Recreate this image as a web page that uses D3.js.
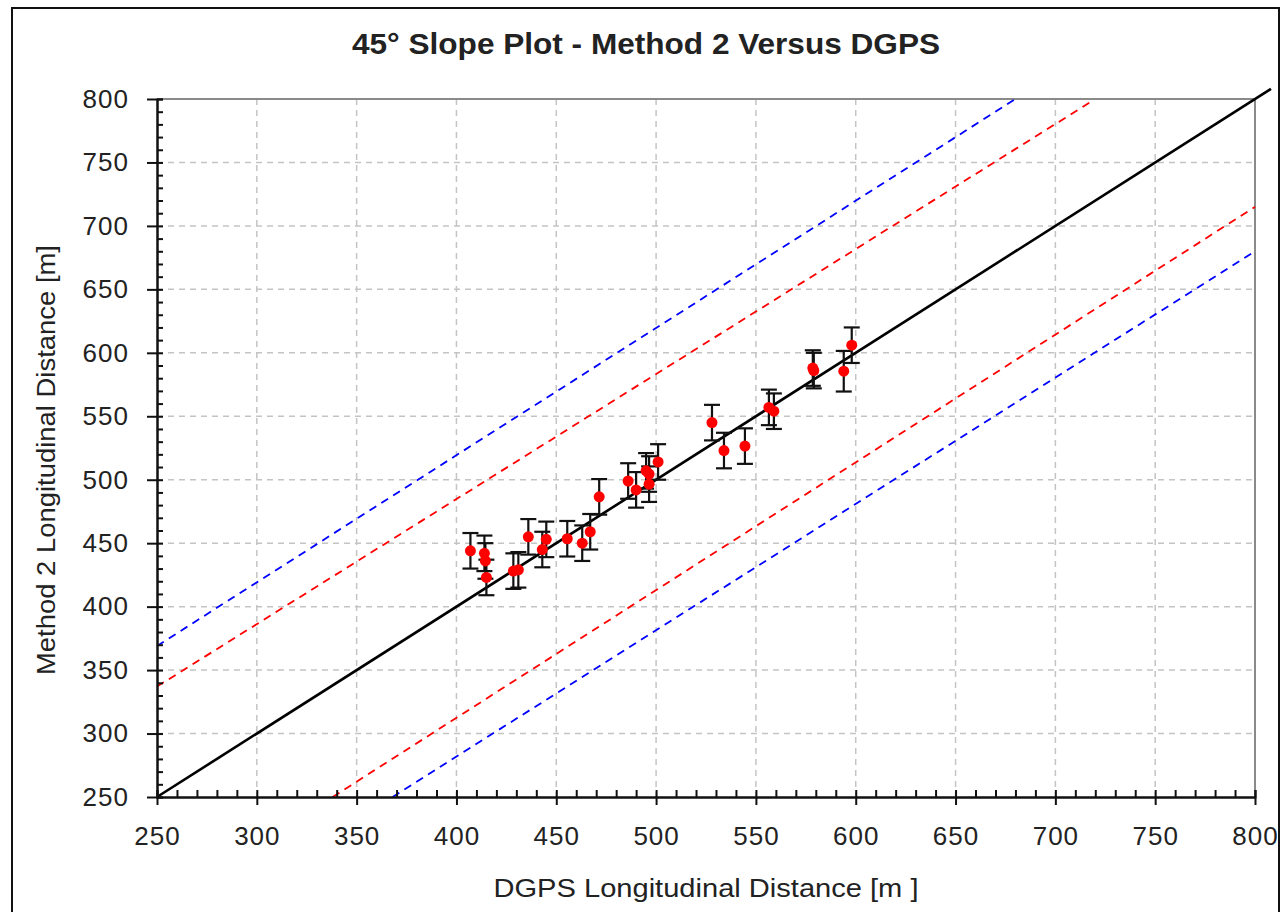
<!DOCTYPE html>
<html>
<head>
<meta charset="utf-8">
<script src="https://cdn.jsdelivr.net/npm/d3@7"></script>
<style>
  body { margin: 0; background: #fff; }
  text { font-family: "Liberation Sans", Arial, sans-serif; fill: #222; }
</style>
</head>
<body>
<div id="chart"></div>
<script>
// Data: DGPS distance vs Method 2 distance, with error bars
var dgps   = [407, 414, 414.5, 415, 428.5, 431, 436, 443, 445, 455.5, 463, 467, 471.5, 486,
              490, 495, 496.5, 496.5, 501, 528, 534, 544.5, 556.5, 559, 578.5, 579, 594, 598];
var method2 = [444, 442, 436, 423, 428, 429, 455, 445, 453, 453.5, 450, 459, 486.5, 499,
              492, 507, 504.5, 496.5, 514, 545, 523, 526.5, 557, 554, 588, 586, 585.5, 606];
var errs   = [14, 14, 14, 14, 14, 14, 14, 14, 14, 14, 14, 14, 14, 14,
              14, 14, 14, 14, 14, 14, 14, 14, 14, 14, 14, 14, 16, 14];

// 45 degree line and the bound lines (end points)
var refX = [250, 808], refY = [250, 808];
var blueUpX = [250, 680], blueUpY = [369, 800];
var redUpX  = [250, 718], redUpY  = [337, 798];
var redLoX  = [338, 800], redLoY  = [250, 715];
var blueLoX = [368, 800], blueLoY = [250, 680];

var majorTicks = [250, 300, 350, 400, 450, 500, 550, 600, 650, 700, 750, 800];
var minorTicks = d3.range(250, 801, 10);

const width = 1288, height = 912;
const plotLeft = 157, plotRight = 1255, plotTop = 99, plotBottom = 797;

var svg = d3.select('#chart').append('svg')
    .attr('width', width)
    .attr('height', height);

// outer frame
svg.append('rect')
   .attr('x', 12).attr('y', 8)
   .attr('width', 1267).attr('height', 920)
   .attr('fill', '#fff').attr('stroke', '#111').attr('stroke-width', 2);

var x = d3.scaleLinear().domain([250, 800]).range([plotLeft, plotRight]);
var y = d3.scaleLinear().domain([250, 800]).range([plotBottom, plotTop]);

// grid
svg.append('g').selectAll('line')
   .data(majorTicks.slice(1, -1))
   .enter().append('line')
   .attr('x1', d => x(d)).attr('x2', d => x(d))
   .attr('y1', plotTop).attr('y2', plotBottom)
   .attr('stroke', '#c4c4c4').attr('stroke-width', 1.5).attr('stroke-dasharray', '6,5');
svg.append('g').selectAll('line')
   .data(majorTicks.slice(1, -1))
   .enter().append('line')
   .attr('y1', d => y(d)).attr('y2', d => y(d))
   .attr('x1', plotLeft).attr('x2', plotRight)
   .attr('stroke', '#c4c4c4').attr('stroke-width', 1.5).attr('stroke-dasharray', '6,5');

// top and right border of plot
svg.append('path')
   .attr('d', `M${plotLeft},${plotTop}H${plotRight}V${plotBottom}`)
   .attr('fill', 'none').attr('stroke', '#8a8a8a').attr('stroke-width', 2);

// bound lines
function boundLine(xs, ys, color) {
    var pts = xs.map((d, i) => [x(d), y(ys[i])]);
    svg.append('path')
       .attr('d', d3.line()(pts))
       .attr('fill', 'none')
       .attr('stroke', color)
       .attr('stroke-width', 1.8)
       .attr('stroke-dasharray', '8,6');
}
boundLine(blueUpX, blueUpY, '#0000ff');
boundLine(redUpX, redUpY, '#ff0000');
boundLine(redLoX, redLoY, '#ff0000');
boundLine(blueLoX, blueLoY, '#0000ff');

// 45 degree line
svg.append('path')
   .attr('d', d3.line()(refX.map((d, i) => [x(d), y(refY[i])])))
   .attr('fill', 'none').attr('stroke', '#000').attr('stroke-width', 2.6);

// axes: inner ticks (all), outer ticks with labels (majors)
var xInner = d3.axisBottom(x).tickValues(minorTicks).tickSize(-7).tickFormat('');
var yInner = d3.axisLeft(y).tickValues(minorTicks).tickSize(-6).tickFormat('');
var xOuter = d3.axisBottom(x).tickValues(majorTicks).tickSize(8).tickSizeOuter(0).tickPadding(22);
var yOuter = d3.axisLeft(y).tickValues(majorTicks).tickSize(10).tickSizeOuter(0).tickPadding(18);

function styleAxis(g) {
    g.selectAll('line').attr('stroke', '#111').attr('stroke-width', 2);
    g.selectAll('path').attr('stroke', '#111').attr('stroke-width', 2);
    g.selectAll('text').attr('font-size', 26).attr('fill', '#2a2a2a')
     .attr('letter-spacing', 1)
     .attr('font-family', '"Liberation Sans", Arial, sans-serif');
}
svg.append('g').attr('transform', `translate(0,${plotBottom})`).call(xInner).call(styleAxis);
svg.append('g').attr('transform', `translate(${plotLeft},0)`).call(yInner).call(styleAxis);
svg.append('g').attr('transform', `translate(0,${plotBottom})`).call(xOuter).call(styleAxis);
svg.append('g').attr('transform', `translate(${plotLeft},0)`).call(yOuter).call(styleAxis);

// error bars
var eb = svg.append('g').attr('stroke', '#111').attr('stroke-width', 2.2);
dgps.forEach((d, i) => {
    var cx = x(d), y1 = y(method2[i] + errs[i]), y2 = y(method2[i] - errs[i]);
    eb.append('line').attr('x1', cx).attr('x2', cx).attr('y1', y1).attr('y2', y2);
    eb.append('line').attr('x1', cx - 8).attr('x2', cx + 8).attr('y1', y1).attr('y2', y1);
    eb.append('line').attr('x1', cx - 8).attr('x2', cx + 8).attr('y1', y2).attr('y2', y2);
});

// points
svg.append('g').selectAll('circle')
   .data(dgps)
   .enter().append('circle')
   .attr('cx', d => x(d))
   .attr('cy', (d, i) => y(method2[i]))
   .attr('r', 5.5)
   .attr('fill', '#ff0000');

// titles
svg.append('text')
   .attr('x', 646).attr('y', 54)
   .attr('text-anchor', 'middle')
   .attr('font-size', 29).attr('font-weight', 'bold').attr('fill', '#111')
   .attr('textLength', 588).attr('lengthAdjust', 'spacingAndGlyphs')
   .text('45° Slope Plot - Method 2 Versus DGPS');

svg.append('text')
   .attr('x', 706).attr('y', 897)
   .attr('text-anchor', 'middle')
   .attr('font-size', 25)
   .attr('textLength', 425).attr('lengthAdjust', 'spacingAndGlyphs')
   .text('DGPS Longitudinal Distance [m ]');

svg.append('text')
   .attr('transform', 'translate(55,460) rotate(-90)')
   .attr('text-anchor', 'middle')
   .attr('font-size', 25)
   .attr('textLength', 430).attr('lengthAdjust', 'spacingAndGlyphs')
   .text('Method 2 Longitudinal Distance [m]');
</script>
</body>
</html>
